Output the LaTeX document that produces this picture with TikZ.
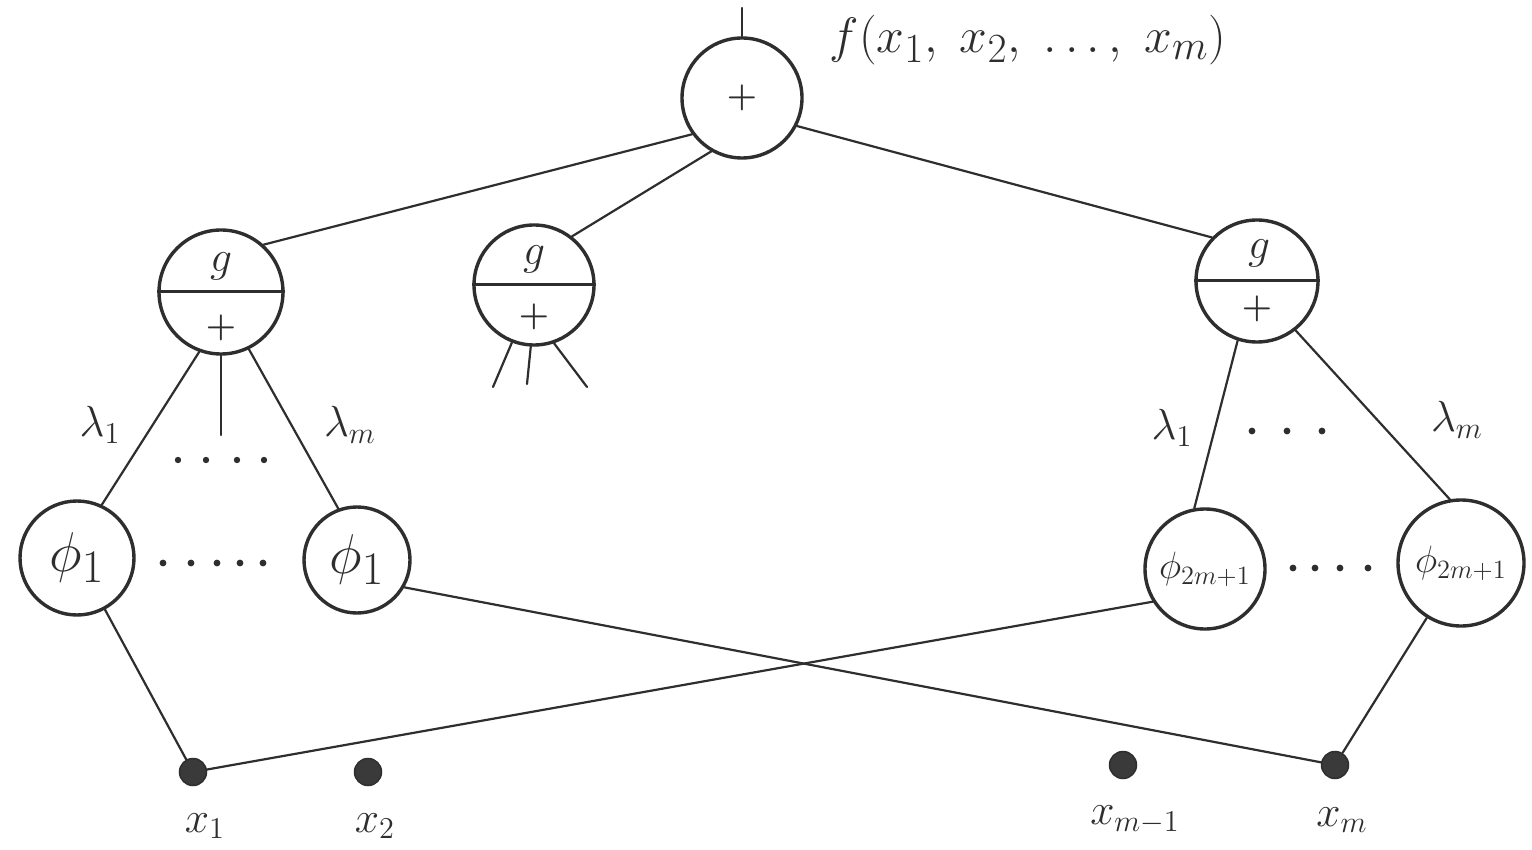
\documentclass[tikz,border=0pt]{standalone}
\usetikzlibrary{calc}
\definecolor{inkc}{HTML}{2E2E2E}
\definecolor{dotc}{HTML}{3A3A3A}
\newcommand\tH[1]{\scalebox{2.0}{\Huge$#1$}}
\newcommand\tB[1]{\scalebox{2.1}{\huge$#1$}}
\newcommand\tM[1]{\scalebox{2.2}{\LARGE$#1$}}
\newcommand\tP[1]{\scalebox{2.25}{\Huge$#1$}}
\newcommand\tPlus{\scalebox{2.0}{\LARGE\boldmath$+$}}
\tikzset{
  wire/.style={draw=inkc, line width=2.2pt, line cap=round},
  divider/.style={draw=inkc, line width=3pt},
  unit/.style={circle, draw=inkc, line width=3.4pt, inner sep=0pt, fill=white},
  inp/.style={circle, fill=dotc, draw=inkc, line width=1.5pt, minimum size=27pt, inner sep=0pt},
  lbl/.style={text=inkc, inner sep=0pt},
  smalldot/.style={fill=inkc},
}
\begin{document}
\begin{tikzpicture}[x=1pt,y=-1pt]
\useasboundingbox[fill=white] (0,0) rectangle (1532,850);

% units
\node[unit, minimum size=120pt] (sumTop) at (742,98) {};
\node[unit, minimum size=124pt] (gL) at (221,292) {};
\node[unit, minimum size=120pt] (gM) at (534,285) {};
\node[unit, minimum size=122pt] (gR) at (1257,281) {};
\node[unit, minimum size=114pt] (pA) at (77,558) {};
\node[unit, minimum size=106pt] (pB) at (357,560) {};
\node[unit, minimum size=120pt] (pC) at (1205,569) {};
\node[unit, minimum size=126pt] (pD) at (1461,563) {};

% inputs
\node[inp] (x1) at (193,772) {};
\node[inp] (x2) at (368,772) {};
\node[inp] (xm1) at (1123,765) {};
\node[inp] (xm) at (1335,765) {};

% free ends
\coordinate (outEnd) at (742,8);
\coordinate (vEnd) at (221,435);
\coordinate (legA) at (493,387);
\coordinate (legB) at (527,384);
\coordinate (legC) at (587,387);

% dividers
\draw[divider] (gL.west) -- (gL.east);
\draw[divider] (gM.west) -- (gM.east);
\draw[divider] (gR.west) -- (gR.east);

% texts inside
\node[lbl] at (sumTop) {\tPlus};
\node[lbl] at ($(gL)+(0,-26)$) {\tB{g}};
\node[lbl] at ($(gL)+(0,36)$) {\tPlus};
\node[lbl] at ($(gM)+(0,-26)$) {\tB{g}};
\node[lbl] at ($(gM)+(0,32)$) {\tPlus};
\node[lbl] at ($(gR)+(2,-28)$) {\tB{g}};
\node[lbl] at ($(gR)+(0,28)$) {\tPlus};
\node[lbl] at (pA) {\tP{\phi_1}};
\node[lbl] at (pB) {\tP{\phi_1}};
\node[lbl] at (pC) {\tM{\phi_{2m{+}1}}};
\node[lbl] at (pD) {\tM{\phi_{2m{+}1}}};

% connectors
\draw[wire] (sumTop.north) -- (outEnd);
\draw[wire] (sumTop.216) -- (gL.48);
\draw[wire] (sumTop.240) -- (gM.52);
\draw[wire] (sumTop.333) -- (gR.136);
\draw[wire] (gL.250) -- (pA.65);
\draw[wire] (gL.south) -- (vEnd);
\draw[wire] (gL.296) -- (pB.110);
\draw[wire] (gM.249) -- (legA);
\draw[wire] (gM.267) -- (legB);
\draw[wire] (gM.289) -- (legC);
\draw[wire] (gR.252) -- (pC.100);
\draw[wire] (gR.308) -- (pD.100);
\draw[wire] (pA) -- (x1);
\draw[wire] (x1) -- (pC.212);
\draw[wire] (pB.-30) -- (xm);
\draw[wire] (pD) -- (xm);

% labels
\node[lbl] (fLab) at (1028,40) {\tH{f(x_1,\;x_2,\;\dots,\;x_m)}};
\node[lbl] (lamLa) at (100,425) {\tB{\lambda_1}};
\node[lbl] (lamLb) at (350,425) {\tB{\lambda_m}};
\node[lbl] (lamRa) at (1172,428) {\tB{\lambda_1}};
\node[lbl] (lamRb) at (1457,420) {\tB{\lambda_m}};
\node[lbl] (lx1) at (205,826) {\tB{x_1}};
\node[lbl] (lx2) at (375,826) {\tB{x_2}};
\node[lbl] (lxm1) at (1135,820) {\tB{x_{m-1}}};
\node[lbl] (lxm) at (1342,820) {\tB{x_m}};

% ellipsis dots
\foreach \xx in {178,206,237,264} \fill[smalldot] (\xx,460) circle (3.2pt);
\foreach \xx in {163,191,217,240,263} \fill[smalldot] (\xx,563) circle (3.4pt);
\foreach \xx in {1252,1287,1322} \fill[smalldot] (\xx,431) circle (3.4pt);
\foreach \xx in {1293,1315,1340,1368} \fill[smalldot] (\xx,568) circle (3.4pt);
\end{tikzpicture}
\end{document}
